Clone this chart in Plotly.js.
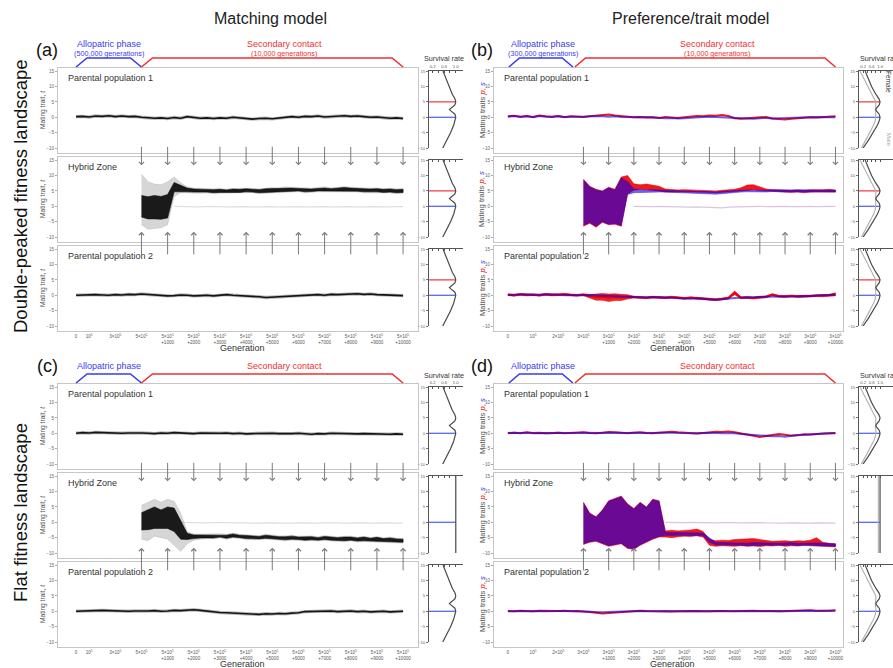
<!DOCTYPE html>
<html><head><meta charset="utf-8">
<script src="https://cdn.plot.ly/plotly-3.0.1.min.js"></script>
<style>html,body{margin:0;padding:0;background:#fff}#chart{width:893px;height:668px}</style>
</head><body><div id="chart"></div>
<script>
// ---------- x grids (axis units: allopatric phase compressed, 1 unit = 1000 contact generations) ----------
const gridAC = [0,0.25,0.5,0.75,1,1.25,1.5,1.75,2,2.25,2.5,2.75,3,3.25,3.5,3.75,4,4.25,4.5,4.75,5,5.25,5.5,5.75,6,6.25,6.5,6.75,7,7.25,7.5,7.75,8,8.25,8.5,8.75,9,9.25,9.5,9.75,10,10.25,10.5,10.75,11,11.25,11.5,11.75,12,12.25,12.5];
const gridACc = [2.5,2.75,3,3.25,3.5,3.75,4,4.25,4.5,4.75,5,5.25,5.5,5.75,6,6.25,6.5,6.75,7,7.25,7.5,7.75,8,8.25,8.5,8.75,9,9.25,9.5,9.75,10,10.25,10.5,10.75,11,11.25,11.5,11.75,12,12.25,12.5];
const gridBD = [0,0.25,0.5,0.75,1,1.25,1.5,1.75,2,2.25,2.5,2.75,3,3.25,3.5,3.75,4,4.25,4.5,4.75,5,5.25,5.5,5.75,6,6.25,6.5,6.75,7,7.25,7.5,7.75,8,8.25,8.5,8.75,9,9.25,9.5,9.75,10,10.25,10.5,10.75,11,11.25,11.5,11.75,12,12.25,12.5,12.75,13];
const gridBDc = [3,3.25,3.5,3.75,4,4.25,4.5,4.75,5,5.25,5.5,5.75,6,6.25,6.5,6.75,7,7.25,7.5,7.75,8,8.25,8.5,8.75,9,9.25,9.5,9.75,10,10.25,10.5,10.75,11,11.25,11.5,11.75,12,12.25,12.5,12.75,13];

// ---------- tick labels ----------
const ticksACvals = [0,0.5,1.5,2.5,3.5,4.5,5.5,6.5,7.5,8.5,9.5,10.5,11.5,12.5];
const ticksACtext = ['0','10<sup>5</sup>','3×10<sup>5</sup>','5×10<sup>5</sup>','5×10<sup>5</sup><br>+1000','5×10<sup>5</sup><br>+2000','5×10<sup>5</sup><br>+3000','5×10<sup>5</sup><br>+4000','5×10<sup>5</sup><br>+5000','5×10<sup>5</sup><br>+6000','5×10<sup>5</sup><br>+7000','5×10<sup>5</sup><br>+8000','5×10<sup>5</sup><br>+9000','5×10<sup>5</sup><br>+10000'];
const ticksBDvals = [0,1,2,3,4,5,6,7,8,9,10,11,12,13];
const ticksBDtext = ['0','10<sup>5</sup>','2×10<sup>5</sup>','3×10<sup>5</sup>','3×10<sup>5</sup><br>+1000','3×10<sup>5</sup><br>+2000','3×10<sup>5</sup><br>+3000','3×10<sup>5</sup><br>+4000','3×10<sup>5</sup><br>+5000','3×10<sup>5</sup><br>+6000','3×10<sup>5</sup><br>+7000','3×10<sup>5</sup><br>+8000','3×10<sup>5</sup><br>+9000','3×10<sup>5</sup><br>+10000'];
const migrationAC = [2.5,3.5,4.5,5.5,6.5,7.5,8.5,9.5,10.5,11.5,12.5];
const migrationBD = [3,4,5,6,7,8,9,10,11,12,13];
const traitTicks = [-10,-5,0,5,10,15];

// ---------- (a) matching model, double-peaked ----------
const a1 = [0.2,0.3,0.1,0.4,0.3,0.5,0.2,0.4,0.2,0.3, 0.0,-0.2,-0.3,-0.2,-0.4,-0.1,-0.3,0.2,-0.1,-0.3, -0.2,-0.4,-0.2,-0.3,0.0,-0.2,-0.5,-0.6,-0.4,-0.3, -0.5,-0.2,0.1,0.2,0.0,0.3,0.2,0.4,0.1,0.3, 0.3,0.5,0.3,0.4,0.2,0.0,0.1,-0.2,-0.3,-0.2, -0.4];
const aHzMid = [0.0,-0.5,-0.3,-0.5,0.0, 6.2,5.8,5.3,5.1,5.0, 5.1,4.9,5.0,4.9,5.0, 5.0,5.2,5.1,4.9,5.2, 5.3,5.3,5.5,5.4,5.4, 5.2,5.2,5.4,5.5,5.3, 5.4,5.6,5.4,5.3,5.2, 5.1,5.2,5.0,5.1,4.9, 5.0];
const aHzCore = [3.5,3.6,3.8,3.7,3.8, 1.5,1.0,0.6,0.5,0.5, 0.5,0.5,0.5,0.4,0.6, 0.5,0.5,0.5,0.5,0.5, 0.5,0.4,0.5,0.5,0.4, 0.5,0.4,0.4,0.4,0.4, 0.4,0.5,0.5,0.4,0.5, 0.5,0.5,0.5,0.5,0.5, 0.5];
const aHzUp = [10.5,8.5,7.5,7.5,8.0, 3.3,1.8,1.0,0.8,0.8, 0.8,0.8,0.8,0.7,0.8, 0.8,0.8,0.7,0.8,0.8, 0.8,0.7,0.8,0.8,0.7, 0.8,0.7,0.7,0.8,0.7, 0.7,0.8,0.8,0.7,0.8, 0.8,0.8,0.7,0.8,0.8, 0.8];
const aHzDown = [6.0,7.0,7.0,6.5,6.0, 3.0,1.4,1.0,0.8,0.8, 0.8,0.8,0.8,0.7,0.8, 0.8,0.8,0.7,0.8,0.8, 0.8,0.7,0.8,0.8,0.7, 0.8,0.7,0.7,0.8,0.7, 0.7,0.8,0.8,0.7,0.8, 0.8,0.8,0.7,0.8,0.8, 0.8];
const aGhost = [null,null,null,null,null, 0.0,-0.1,0.0,-0.1,-0.2, -0.1,0.0,-0.1,-0.2,-0.1, 0.0,-0.1,-0.2,-0.1,0.0, -0.1,-0.2,-0.1,0.0,-0.1, -0.2,-0.1,0.0,-0.1,-0.2, -0.1,0.0,-0.1,-0.2,-0.1, 0.0,-0.1,-0.2,-0.1,0.0, -0.1];
const a3 = [0.0,0.1,0.0,0.2,0.1,0.0,0.2,0.1,0.3,0.2, 0.4,0.2,0.0,-0.1,-0.2,-0.1,0.1,0.0,-0.2,-0.1, 0.0,-0.2,0.1,0.2,0.0,-0.1,-0.3,-0.2,-0.5,-0.7, -0.6,-0.4,-0.3,-0.2,-0.3,-0.1,0.1,0.2,0.0,0.3, 0.2,0.3,0.4,0.5,0.3,0.4,0.2,0.1,-0.1,-0.2, -0.1];

// ---------- (b) preference/trait model, double-peaked (p red, s blue) ----------
const b1Red = [0.3,0.5,0.2,0.4,0.1,0.6,0.3,0.2,0.4,0.0, 0.3,0.2,0.1,0.3,0.5,0.8,0.9,0.6,0.4,0.2, 0.0,0.1,-0.1,0.0,-0.2,0.1,-0.1,-0.2,0.0,0.2, 0.4,0.3,0.6,0.5,0.7,0.4,-0.3,-0.5,-0.4,-0.2, 0.0,0.1,-0.4,-0.6,-0.7,-0.5,-0.3,-0.1,0.0,-0.1, 0.1,0.2,0.3];
const b1Blue = [0.2,0.4,0.1,0.3,0.0,0.4,0.2,0.1,0.3,0.1, 0.2,0.1,0.2,0.3,0.4,0.3,0.2,0.3,0.1,0.0, -0.1,0.0,0.1,-0.1,-0.2,-0.3,-0.2,-0.4,-0.3,-0.1, 0.0,0.1,0.2,0.1,0.0,-0.1,-0.3,-0.4,-0.6,-0.5, -0.3,-0.2,-0.4,-0.3,-0.2,-0.1,-0.2,-0.1,0.0,0.1, 0.0,0.1,0.0];
const bHzRedHi = [8.8,6.5,5.5,5.0,6.2, 5.5,9.5,10.0,7.3,7.0, 7.2,6.8,6.5,5.6,5.4, 5.3,5.4,5.3,5.2,5.3, 5.1,5.0,5.2,5.3,5.5, 6.0,6.9,7.0,6.3,5.6, 5.4,5.3,5.4,5.2,5.3, 5.2,5.4,5.3,5.4,5.5, 5.3];
const bHzRedLo = [-6.5,-5.5,-6.8,-5.2,-6.0, -5.8,-6.5,4.0,5.2,5.5, 5.4,5.3,5.0,4.6,4.7, 4.6,4.7,4.6,4.7,4.6, 4.5,4.4,4.5,4.6,4.8, 5.0,5.3,5.4,5.1,4.8, 4.8,4.7,4.6,4.5,4.6, 4.4,4.6,4.5,4.7,4.6, 4.6];
const bHzBlueHi = [8.5,6.3,5.3,4.9,6.0, 5.3,9.2,8.0,5.6,5.4, 5.3,5.4,5.3,5.2,5.3, 5.2,5.0,4.9,4.8,4.9, 4.7,4.6,4.8,5.0,5.1, 5.2,5.3,5.2,5.3,5.2, 5.4,5.3,5.2,5.3,5.4, 5.3,5.2,5.3,5.2,5.3, 5.2];
const bHzBlueLo = [-6.2,-5.3,-6.5,-5.0,-5.8, -5.6,-6.3,3.8,4.4,4.5, 4.5,4.6,4.6,4.6,4.7, 4.6,4.4,4.3,4.2,4.2, 4.0,3.9,4.1,4.3,4.5, 4.6,4.7,4.6,4.7,4.6, 4.8,4.7,4.6,4.7,4.8, 4.7,4.6,4.7,4.6,4.7, 4.6];
const bGhost = [null,null,null,null,null,null,null,null, 0.0,-0.1,0.0,-0.1,0.0, -0.1,-0.2,-0.1,-0.2,-0.3, -0.2,-0.3,-0.5,-0.6,-0.5, -0.3,-0.2,-0.1,0.0,-0.1, 0.0,-0.1,0.0,0.1,0.0, -0.1,0.0,0.1,0.0,-0.1, 0.0,0.1,0.0];
const b3Red = [0.2,0.0,0.3,0.1,0.2,0.0,0.3,0.1,0.2,0.3, 0.1,0.0,0.2,-0.3,-0.6,-0.5,-0.8,-0.6,-0.7,-0.5, -0.6,-0.7,-0.8,-0.6,-0.7,-0.8,-0.6,-0.9,-1.0,-0.8, -1.0,-1.1,-1.3,-1.4,-1.2,-0.9,0.8,-0.8,-0.7,-0.9, -0.6,-0.5,0.2,-0.3,-0.4,-0.2,-0.4,-0.3,-0.2,-0.1, -0.2,0.0,0.3];
const b3RedW = [0.3,0.3,0.3,0.3,0.3,0.3,0.3,0.3,0.3,0.3, 0.3,0.3,0.3,0.6,1.0,1.1,1.2,1.1,1.0,0.7, 0.3,0.3,0.3,0.3,0.3,0.3,0.3,0.3,0.3,0.3, 0.3,0.3,0.3,0.3,0.3,0.3,0.6,0.3,0.3,0.3, 0.3,0.3,0.3,0.3,0.3,0.3,0.3,0.3,0.3,0.3, 0.3,0.3,0.5];
const b3Blue = [0.1,0.2,0.1,0.3,0.1,0.2,0.1,0.3,0.2,0.1, 0.2,0.1,0.0,0.1,0.0,-0.1,0.0,-0.2,-0.3,-0.5, -0.6,-0.7,-0.7,-0.6,-0.7,-0.8,-0.7,-0.8,-1.0,-1.1, -1.0,-1.2,-1.3,-1.5,-1.3,-1.0,-0.9,-0.8,-0.8,-0.7, -0.6,-0.5,-0.5,-0.4,-0.3,-0.4,-0.3,-0.2,-0.3,-0.1, 0.0,0.1,0.2];

// ---------- (c) matching model, flat ----------
const c1 = [0.0,0.2,0.1,0.3,0.2,0.1,0.2,0.0,0.1,0.2, 0.1,0.0,-0.1,0.1,0.0,0.2,0.1,0.0,-0.1,0.1, 0.0,-0.1,0.0,0.1,-0.1,0.0,-0.2,-0.1,0.0,0.1, 0.0,-0.1,-0.2,-0.1,0.0,-0.2,-0.3,-0.1,-0.2,0.0, -0.1,-0.2,-0.3,-0.2,-0.1,-0.2,-0.3,-0.4,-0.3,-0.2, -0.3];
const cHzMid = [0.3,0.8,1.5,1.0,1.5, 0.8,-2.5,-4.6,-4.7,-4.6, -4.5,-4.6,-4.4,-4.7,-4.3, -4.6,-4.8,-4.9,-5.0,-4.7, -5.0,-5.1,-5.2,-5.0,-5.2, -5.3,-5.2,-5.4,-5.1,-5.3, -5.5,-5.4,-5.3,-5.6,-5.4, -5.7,-5.5,-5.8,-5.7,-5.9, -6.0];
const cHzCore = [2.8,3.2,3.5,3.0,3.5, 3.8,3.0,1.0,0.6,0.5, 0.5,0.5,0.4,0.5,0.5, 0.4,0.5,0.5,0.4,0.5, 0.5,0.4,0.5,0.5,0.4, 0.5,0.5,0.4,0.5,0.5, 0.5,0.6,0.5,0.5,0.6, 0.5,0.6,0.5,0.6,0.5, 0.5];
const cHzUp = [5.2,5.7,6.0,5.5,6.0, 6.0,5.5,1.5,0.9,0.8, 0.8,0.8,0.7,0.8,0.8, 0.7,0.8,0.8,0.7,0.8, 0.8,0.7,0.8,0.8,0.7, 0.8,0.8,0.7,0.8,0.8, 0.8,0.9,0.8,0.8,0.9, 0.8,0.9,0.8,0.9,0.8, 0.8];
const cHzDown = [5.8,6.8,6.0,6.0,7.0, 8.3,7.0,2.4,1.1,0.9, 0.8,0.8,0.7,0.8,0.8, 0.7,0.8,0.8,0.7,0.8, 0.8,0.7,0.8,0.8,0.7, 0.8,0.8,0.7,0.8,0.8, 0.8,0.9,0.8,0.8,0.9, 0.8,0.9,0.8,0.9,0.8, 0.8];
const cGhost = [null,null,null,null,null,null, 0.0,-0.1,0.0,-0.1,-0.2, -0.1,0.0,-0.1,-0.2,-0.1, -0.2,-0.3,-0.2,-0.3,-0.2, -0.3,-0.4,-0.3,-0.2,-0.3, -0.2,-0.3,-0.2,-0.1,-0.2, -0.3,-0.2,-0.1,-0.2,-0.3, -0.2,-0.3,-0.2,-0.3,-0.2];
const c3 = [0.0,0.1,0.0,0.2,0.3,0.2,0.1,0.2,0.0,0.1, 0.0,0.1,0.2,0.0,0.1,0.3,0.2,0.4,0.5,0.3, 0.0,-0.2,-0.4,-0.5,-0.6,-0.8,-0.7,-0.9,-1.0,-0.8, -0.9,-0.7,-0.8,-0.6,-0.5,-0.1,0.0,0.1,0.0,0.1, -0.1,0.0,0.1,-0.1,0.0,-0.2,-0.1,0.0,-0.2,-0.1, 0.0];

// ---------- (d) preference/trait model, flat ----------
const d1Red = [0.1,0.2,0.0,0.3,0.1,0.2,0.0,0.1,0.2,0.0, 0.1,0.2,0.3,0.1,0.0,0.2,0.4,0.3,0.1,0.0, 0.2,0.3,0.1,0.0,0.2,0.4,0.5,0.3,0.2,0.0, -0.1,0.1,0.3,0.5,0.4,0.6,0.3,0.0,-0.3,-0.8, -1.2,-0.9,-0.4,-0.2,-0.5,-0.8,-0.6,-0.3,-0.4,-0.2, -0.1,0.0,0.1];
const d1Blue = [0.0,0.2,0.1,0.2,0.0,0.1,0.1,0.0,0.2,0.1, 0.0,0.1,0.2,0.1,0.0,0.1,0.2,0.1,0.0,0.1, 0.2,0.1,0.0,0.1,0.2,0.3,0.2,0.1,0.0,-0.1, 0.0,0.1,0.2,0.1,0.0,0.1,0.0,-0.2,-0.4,-0.6, -0.8,-0.9,-1.0,-0.9,-1.1,-0.8,-0.6,-0.4,-0.3,-0.2, -0.1,0.0,0.0];
const dHzRedHi = [6.5,3.0,1.8,4.0,7.0, 7.7,8.5,6.0,4.5,6.5, 5.0,7.5,7.0,-2.8,-2.6, -2.8,-2.7,-2.5,-2.2,-3.0, -5.5,-6.0,-5.8,-5.9,-5.6, -5.5,-5.2,-5.3,-5.6,-6.0, -6.2,-6.1,-6.0,-6.2,-6.0, -6.1,-5.8,-5.0,-6.5,-6.8, -7.0];
const dHzRedLo = [-7.2,-6.5,-6.2,-7.0,-7.8, -7.5,-7.0,-8.5,-8.8,-7.5, -6.5,-5.5,-4.8,-4.8,-5.0, -4.7,-4.5,-4.6,-4.4,-4.8, -7.5,-7.8,-7.6,-7.7,-7.8, -7.6,-7.8,-7.7,-7.9,-7.6, -7.7,-7.5,-7.8,-7.6,-7.7, -7.5,-7.8,-7.9,-7.8,-7.9, -8.0];
const dHzBlueHi = [6.3,2.8,1.6,3.8,6.8, 7.5,8.3,5.8,4.3,6.3, 4.8,7.3,6.8,-3.2,-3.4, -3.3,-3.4,-3.3,-3.4,-3.5, -5.0,-6.5,-6.6,-6.7,-6.6, -6.7,-6.8,-6.6,-6.7,-6.6, -6.7,-6.8,-6.7,-6.6,-6.8, -6.7,-6.6,-6.7,-6.8,-6.9, -7.0];
const dHzBlueLo = [-7.0,-6.3,-6.0,-6.8,-7.6, -7.3,-6.8,-8.3,-8.6,-7.3, -6.3,-5.3,-4.6,-4.2,-4.3, -4.2,-4.3,-4.2,-4.3,-4.4, -6.5,-7.3,-7.4,-7.5,-7.4, -7.5,-7.6,-7.4,-7.5,-7.4, -7.5,-7.6,-7.5,-7.4,-7.6, -7.5,-7.4,-7.5,-7.6,-7.7, -7.8];
const dGhost = [null,null,null,null,null,null,null,null,null,null,null,null,null, 0.0,-0.1,0.0,-0.1,0.0, -0.1,0.0,-0.1,-0.2,-0.1, 0.0,-0.1,-0.2,-0.1,-0.2, -0.1,-0.2,-0.3,-0.2,-0.3, -0.2,-0.3,-0.4,-0.3,-0.2, -0.3,-0.4,-0.3];
const d3Red = [0.1,0.0,0.2,0.1,0.0,0.2,0.1,0.0,0.1,0.2, 0.0,0.1,0.0,-0.2,-0.5,-0.7,-0.6,-0.4,-0.2,0.0, 0.1,0.2,0.1,0.0,0.1,0.0,-0.1,0.0,0.1,0.2, 0.1,0.0,0.1,0.2,0.1,0.0,0.1,0.2,0.3,0.2, 0.1,0.2,0.1,0.0,0.1,0.2,0.1,0.2,0.3,0.2, 0.1,0.2,0.3];
const d3Blue = [0.0,0.1,0.1,0.0,0.1,0.1,0.0,0.1,0.0,0.1, 0.1,0.0,0.1,0.0,-0.2,-0.3,-0.2,-0.1,0.0,0.1, 0.0,0.1,0.0,-0.1,0.0,0.1,0.0,-0.1,0.0,0.1, 0.0,0.1,0.0,0.1,0.2,0.1,0.0,0.1,0.2,0.1, 0.0,0.1,0.2,0.1,0.0,0.1,0.2,0.1,0.2,0.1, 0.2,0.1,0.2];

// ---------- survival-rate side panels ----------
const survTrait = [15,12.5,10,7.5,6,5,4,3,2.5,2,1,0,-1,-2.5,-5,-7.5,-10];
const survDouble = [0.56,0.66,0.76,0.88,0.97,1.0,0.97,0.84,0.78,0.84,0.97,1.0,0.98,0.93,0.82,0.69,0.55];
const survFemale = [0.3,0.45,0.6,0.8,0.95,1.0,0.96,0.84,0.8,0.84,0.96,1.0,0.97,0.88,0.68,0.45,0.2];
const survMale = [0.06,0.25,0.42,0.62,0.74,0.8,0.8,0.78,0.77,0.78,0.8,0.8,0.78,0.7,0.52,0.32,0.12];
const survFlatTrait = [15,-10];
const survFlat = [1.0,1.0];
const survFlatMale = [0.92,0.92];
const peakTraitsDouble = [5,0];
const peakTraitsFlat = [0];

// ---------- checks ----------
(function(){
  const chk=[['a1',a1,51],['a3',a3,51],['c1',c1,51],['c3',c3,51],['aHzMid',aHzMid,41],['aHzCore',aHzCore,41],['aHzUp',aHzUp,41],['aHzDown',aHzDown,41],['aGhost',aGhost,41],
  ['b1Red',b1Red,53],['b1Blue',b1Blue,53],['b3Red',b3Red,53],['b3RedW',b3RedW,53],['b3Blue',b3Blue,53],['d1Red',d1Red,53],['d1Blue',d1Blue,53],['d3Red',d3Red,53],['d3Blue',d3Blue,53],
  ['bHzRedHi',bHzRedHi,41],['bHzRedLo',bHzRedLo,41],['bHzBlueHi',bHzBlueHi,41],['bHzBlueLo',bHzBlueLo,41],['bGhost',bGhost,41],
  ['cHzMid',cHzMid,41],['cHzCore',cHzCore,41],['cHzUp',cHzUp,41],['cHzDown',cHzDown,41],['cGhost',cGhost,41],
  ['dHzRedHi',dHzRedHi,41],['dHzRedLo',dHzRedLo,41],['dHzBlueHi',dHzBlueHi,41],['dHzBlueLo',dHzBlueLo,41],['dGhost',dGhost,41],
  ['gridAC',gridAC,51],['gridACc',gridACc,41],['gridBD',gridBD,53],['gridBDc',gridBDc,41],['survDouble',survDouble,17],['survFemale',survFemale,17],['survMale',survMale,17]];
  const bad=chk.filter(c=>c[1].length!==c[2]).map(c=>c[0]+':'+c[1].length);
  if(bad.length) throw new Error('Length mismatch '+bad.join(','));
})();

// ---------- build ----------
const W=893,H=668;
const FONT='"Liberation Sans", Arial, sans-serif';
const RED='rgba(238,0,0,0.9)', BLUE='rgba(25,0,225,0.62)';
const layout={width:W,height:H,margin:{l:0,r:0,t:0,b:0},paper_bgcolor:'#fff',plot_bgcolor:'rgba(0,0,0,0)',
  showlegend:false,font:{family:FONT,color:'#333'},annotations:[],shapes:[]};
const traces=[];
let axN=0;
function newAxes(){axN++;const s=axN===1?'':String(axN);return {xa:'x'+s,ya:'y'+s,xk:'xaxis'+s,yk:'yaxis'+s};}
const PT=3.08;
const YR=[-11.6,16];

const blocks=[
 {id:'(a)',model:'match',land:'double',x0:58,x1:418,sx0:429,sx1:463,top:68,xr:[-0.69,13.07],sr:[0.075,1.25],
  grid:gridAC,gridc:gridACc,tv:ticksACvals,tt:ticksACtext,mig:migrationAC,
  rows:[{k:'line',y:a1},{k:'hz',mid:aHzMid,core:aHzCore,up:aHzUp,down:aHzDown,ghost:aGhost},{k:'line',y:a3}],
  allo:[0,2.5],cont:[2.5,12.5],alloTx:1.25,contTx:7.95,alloSub:'(500,000 generations)',contSub:'(10,000 generations)'},
 {id:'(b)',model:'pref',land:'double',x0:494,x1:843,sx0:859,sx1:893,top:68,xr:[-0.55,13.3],sr:[0.01,1.61],
  grid:gridBD,gridc:gridBDc,tv:ticksBDvals,tt:ticksBDtext,mig:migrationBD,sexLabels:true,
  rows:[{k:'rb',r:b1Red,b:b1Blue},{k:'rbhz',rh:bHzRedHi,rl:bHzRedLo,bh:bHzBlueHi,bl:bHzBlueLo,ghost:bGhost},{k:'rb',r:b3Red,b:b3Blue,rw:b3RedW}],
  allo:[0.04,2.58],cont:[2.66,13],alloTx:1.39,contTx:8.3,alloSub:'(300,000 generations)',contSub:'(10,000 generations)'},
 {id:'(c)',model:'match',land:'flat',x0:58,x1:418,sx0:429,sx1:463,top:384,xr:[-0.69,13.07],sr:[0.075,1.25],
  grid:gridAC,gridc:gridACc,tv:ticksACvals,tt:ticksACtext,mig:migrationAC,
  rows:[{k:'line',y:c1},{k:'hz',mid:cHzMid,core:cHzCore,up:cHzUp,down:cHzDown,ghost:cGhost},{k:'line',y:c3}],
  allo:[0,2.5],cont:[2.5,12.5],alloTx:1.25,contTx:7.95,alloSub:null,contSub:null},
 {id:'(d)',model:'pref',land:'flat',x0:494,x1:843,sx0:859,sx1:893,top:384,xr:[-0.55,13.3],sr:[0.01,1.61],
  grid:gridBD,gridc:gridBDc,tv:ticksBDvals,tt:ticksBDtext,mig:migrationBD,
  rows:[{k:'rb',r:d1Red,b:d1Blue},{k:'rbhz',rh:dHzRedHi,rl:dHzRedLo,bh:dHzBlueHi,bl:dHzBlueLo,ghost:dGhost},{k:'rb',r:d3Red,b:d3Blue}],
  allo:[0.04,2.58],cont:[2.66,13],alloTx:1.39,contTx:8.3,alloSub:null,contSub:null}
];
const rowNames=['Parental population 1','Hybrid Zone','Parental population 2'];

function band(xs,hi,lo,color,ax){
  return {type:'scatter',mode:'lines',x:xs.concat(xs.slice().reverse()),y:hi.concat(lo.slice().reverse()),
    fill:'toself',fillcolor:color,line:{color:color,width:0.6},xaxis:ax.xa,yaxis:ax.ya,hoverinfo:'skip'};
}
function line(xs,ys,color,w,ax){
  return {type:'scatter',mode:'lines',x:xs,y:ys,line:{color:color,width:w},xaxis:ax.xa,yaxis:ax.ya,hoverinfo:'skip',connectgaps:false};
}

blocks.forEach(b=>{
  const axes=[];
  for(let r=0;r<3;r++){
    const top=b.top+r*89, bot=top+85;
    const ax=newAxes(); axes.push(ax);
    layout[ax.xk]={domain:[b.x0/W,b.x1/W],range:b.xr,anchor:ax.ya,showline:true,mirror:true,linecolor:'#c6c6c6',linewidth:1,
      showgrid:false,zeroline:false,ticks:'',tickvals:b.tv,ticktext:b.tt,showticklabels:r===2,tickangle:0,
      tickfont:{size:4.6,color:'#555',family:FONT},fixedrange:true};
    layout[ax.yk]={domain:[1-bot/H,1-top/H],range:YR,anchor:ax.xa,showline:true,mirror:true,linecolor:'#c6c6c6',linewidth:1,
      showgrid:false,zeroline:false,tickvals:traitTicks,ticks:'outside',ticklen:2,tickcolor:'#aaa',
      tickfont:{size:4.6,color:'#666',family:FONT},fixedrange:true};
    const d=b.rows[r];
    if(d.k==='line'){
      traces.push(line(b.grid,d.y,'rgba(60,60,60,0.35)',3.4,ax));
      traces.push(line(b.grid,d.y,'#141414',1.6,ax));
    } else if(d.k==='hz'){
      const oh=d.mid.map((m,i)=>m+d.up[i]), ol=d.mid.map((m,i)=>m-d.down[i]);
      const ch=d.mid.map((m,i)=>m+d.core[i]), cl=d.mid.map((m,i)=>m-d.core[i]);
      traces.push(line(b.gridc,d.ghost,'rgba(150,150,150,0.3)',1.2,ax));
      traces.push(band(b.gridc,oh,ol,'rgba(0,0,0,0.16)',ax));
      traces.push(band(b.gridc,ch,cl,'rgba(10,10,10,0.92)',ax));
    } else if(d.k==='rb'){
      if(d.rw){
        traces.push(band(b.grid,d.r.map((v,i)=>v+d.rw[i]),d.r.map((v,i)=>v-d.rw[i]),'rgba(238,0,0,0.85)',ax));
      }
      traces.push(line(b.grid,d.r,RED,2.0,ax));
      traces.push(line(b.grid,d.b,BLUE,2.0,ax));
    } else {
      traces.push(line(b.gridc,d.ghost,'rgba(140,60,160,0.3)',1.2,ax));
      traces.push(band(b.gridc,d.rh,d.rl,RED,ax));
      traces.push(band(b.gridc,d.bh,d.bl,BLUE,ax));
    }
    layout.annotations.push({xref:'paper',yref:'paper',x:(b.x0+8)/W,y:1-(top+10)/H,xanchor:'left',yanchor:'middle',
      text:rowNames[r],showarrow:false,font:{size:9,color:'#333',family:FONT}});
    const yt = b.model==='match' ? 'Mating trait, <i>t</i>' :
      'Mating traits <i><span style="color:#e00000">p</span></i><span style="color:#e00000">,</span> <i><span style="color:#2a2af0">s</span></i>';
    layout.annotations.push({xref:'paper',yref:'paper',x:(b.model==='match'?43:482)/W,y:1-(top+42)/H,textangle:-90,
      xanchor:'center',yanchor:'middle',text:yt,showarrow:false,font:{size:b.model==='match'?6.6:7.6,color:'#555',family:FONT}});

    // survival panel
    const sax=newAxes();
    const st=top+(YR[1]-15)*PT, sb=top+(YR[1]+10)*PT;
    layout[sax.xk]={domain:[b.sx0/W,b.sx1/W],range:b.sr,anchor:sax.ya,side:'top',showline:true,linecolor:'#555',linewidth:1,
      showgrid:false,zeroline:false,tickvals:[0.2,0.4,0.6,0.8,1.0],ticktext:['0.2','','0.6','','1.0'],showticklabels:r===0,
      ticks:'inside',ticklen:2,tickcolor:'#555',tickfont:{size:4.2,color:'#555',family:FONT},tickangle:0,fixedrange:true};
    layout[sax.yk]={domain:[1-sb/H,1-st/H],range:[-10,15],anchor:sax.xa,showline:true,linecolor:'#555',linewidth:1,
      showgrid:false,zeroline:false,tickvals:traitTicks,ticks:'outside',ticklen:2,tickcolor:'#777',
      tickfont:{size:4.2,color:'#666',family:FONT},fixedrange:true};
    const flatHz = (b.land==='flat' && r===1);
    const peaks = b.land==='double' ? peakTraitsDouble : peakTraitsFlat;
    const mainSurv = b.model==='pref' ? survFemale : survDouble;
    const curve = flatHz ? {x:survFlat,y:survFlatTrait} : {x:mainSurv,y:survTrait};
    peaks.forEach(pt=>{
      const sv = flatHz ? survFlat[0] : mainSurv[survTrait.indexOf(pt)];
      traces.push(line([b.sr[0],sv],[pt,pt],pt===5?'#ee3344':'#4a5cf0',1.2,sax));
    });
    if(b.model==='pref'){
      const m = flatHz ? {x:survFlatMale,y:survFlatTrait} : {x:survMale,y:survTrait};
      traces.push(line(m.x,m.y,'#b0b0b0',1.1,sax));
    }
    traces.push(line(curve.x,curve.y,'#4a4a4a',1.2,sax));
    if(r===0){
      layout.annotations.push({xref:'paper',yref:'paper',x:((b.sx0+b.sx1)/2+(b.model==='match'?-2:4))/W,y:1-(top-9)/H,
        xanchor:'center',yanchor:'middle',text:'Survival rate',showarrow:false,font:{size:7.2,color:'#333',family:FONT}});
      if(b.sexLabels){
        layout.annotations.push({xref:'paper',yref:'paper',x:889/W,y:1-(top+14)/H,textangle:90,xanchor:'center',yanchor:'middle',
          text:'Female',showarrow:false,font:{size:6.5,color:'#333',family:FONT}});
        layout.annotations.push({xref:'paper',yref:'paper',x:889/W,y:1-(top+72)/H,textangle:90,xanchor:'center',yanchor:'middle',
          text:'Male',showarrow:false,font:{size:6,color:'#aaa',family:FONT}});
      }
    }
  }
  const [p1,hz,p2]=axes;
  b.mig.forEach(u=>{
    layout.annotations.push({xref:hz.xa,yref:hz.ya,x:u,y:13.3,ax:0,ay:-20,showarrow:true,arrowhead:4,arrowsize:1,arrowwidth:1,arrowcolor:'#7a7a7a',text:''});
    layout.annotations.push({xref:hz.xa,yref:hz.ya,x:u,y:-8.3,ax:0,ay:24,showarrow:true,arrowhead:4,arrowsize:1,arrowwidth:1,arrowcolor:'#7a7a7a',text:''});
  });
  const yb=1-(b.top-1)/H, ytop=1-(b.top-10)/H, dd=0.42;
  const br=(r0,r1,col)=>layout.shapes.push({type:'path',xref:p1.xa,yref:'paper',
    path:`M${r0},${yb} L${r0+dd},${ytop} L${r1-dd},${ytop} L${r1},${yb}`,line:{color:col,width:1.6}});
  br(b.allo[0],b.allo[1],'#3b3bea'); br(b.cont[0],b.cont[1],'#ee3030');
  const hy = b.alloSub ? b.top-24 : b.top-18;
  layout.annotations.push({xref:p1.xa,yref:'paper',x:b.alloTx,y:1-hy/H,text:'Allopatric phase',showarrow:false,xanchor:'center',yanchor:'middle',font:{size:9,color:'#3b3bea',family:FONT}});
  layout.annotations.push({xref:p1.xa,yref:'paper',x:b.contTx,y:1-hy/H,text:'Secondary contact',showarrow:false,xanchor:'center',yanchor:'middle',font:{size:9,color:'#ee3030',family:FONT}});
  if(b.alloSub){
    layout.annotations.push({xref:p1.xa,yref:'paper',x:b.alloTx,y:1-(b.top-15)/H,text:b.alloSub,showarrow:false,xanchor:'center',yanchor:'middle',font:{size:7.2,color:'#3b3bea',family:FONT}});
    layout.annotations.push({xref:p1.xa,yref:'paper',x:b.contTx,y:1-(b.top-15)/H,text:b.contSub,showarrow:false,xanchor:'center',yanchor:'middle',font:{size:7.2,color:'#ee3030',family:FONT}});
  }
  layout.annotations.push({xref:'paper',yref:'paper',x:(b.model==='match'?47:482)/W,y:1-(b.top-18)/H,text:b.id,showarrow:false,xanchor:'center',yanchor:'middle',font:{size:18,color:'#111',family:FONT}});
  layout.annotations.push({xref:'paper',yref:'paper',x:((b.x0+b.x1)/2+4)/W,y:1-(b.top+280)/H,text:'Generation',showarrow:false,xanchor:'center',yanchor:'middle',font:{size:9,color:'#333',family:FONT}});
});

layout.annotations.push({xref:'paper',yref:'paper',x:270/W,y:1-18/H,text:'Matching model',showarrow:false,xanchor:'center',yanchor:'middle',font:{size:16,color:'#222',family:FONT}});
layout.annotations.push({xref:'paper',yref:'paper',x:690/W,y:1-18/H,text:'Preference/trait model',showarrow:false,xanchor:'center',yanchor:'middle',font:{size:16,color:'#222',family:FONT}});
layout.annotations.push({xref:'paper',yref:'paper',x:20/W,y:1-196/H,text:'Double-peaked fitness landscape',textangle:-90,showarrow:false,xanchor:'center',yanchor:'middle',font:{size:18.5,color:'#111',family:FONT}});
layout.annotations.push({xref:'paper',yref:'paper',x:20/W,y:1-513/H,text:'Flat fitness landscape',textangle:-90,showarrow:false,xanchor:'center',yanchor:'middle',font:{size:18.5,color:'#111',family:FONT}});

Plotly.newPlot('chart',traces,layout,{staticPlot:true,displayModeBar:false});
</script>
</body></html>
